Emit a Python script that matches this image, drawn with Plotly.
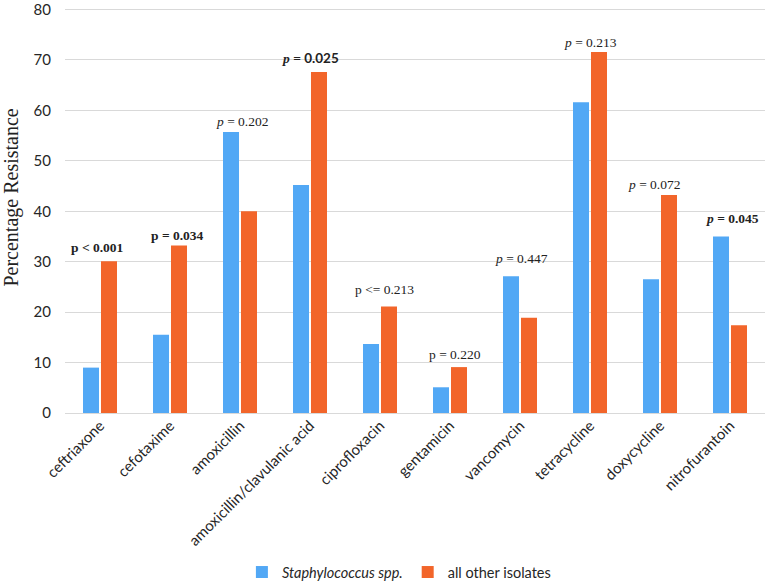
import plotly.graph_objects as go

categories = ["ceftriaxone", "cefotaxime", "amoxicillin", "amoxicillin/clavulanic acid",
              "ciprofloxacin", "gentamicin", "vancomycin", "tetracycline", "doxycycline",
              "nitrofurantoin"]
staph = [9.0, 15.5, 55.7, 45.2, 13.7, 5.1, 27.1, 61.6, 26.5, 35.0]
others = [30.1, 33.2, 40.0, 67.6, 21.1, 9.1, 18.9, 71.6, 43.2, 17.4]
y_ticks = [0, 10, 20, 30, 40, 50, 60, 70, 80]

SERIF = "Liberation Serif, Times New Roman, serif"
SANS = "Lato, Open Sans, sans-serif"

p_labels = [
    "<b>p &lt; 0.001</b>",
    "<b>p = 0.034</b>",
    "<i>p</i> = 0.202",
    "<b><i>p</i> = <span style='font-family:Lato'>0.025</span></b>",
    "p &lt;= 0.213",
    "p = 0.220",
    "<i>p</i> = 0.447",
    "<i>p</i> = 0.213",
    "<i>p</i> = 0.072",
    "<b><i>p</i> = 0.045</b>",
]
# annotation placement (data y, pixel x shift)
label_y = [32.9, 35.2, 57.7, 70.4, 24.5, 11.6, 30.6, 73.5, 45.3, 38.5]
label_dx = [-3, 7, 2, 0, 4, 5, 1.5, 0.5, -6, 2]

fig = go.Figure()
fig.add_trace(go.Bar(x=categories, y=staph, name="<i>Staphylococcus spp.</i>",
                     marker=dict(color="#52A8F5", line=dict(width=0))))
fig.add_trace(go.Bar(x=categories, y=others, name="all other isolates",
                     marker=dict(color="#F2652A", line=dict(width=0))))

for c, t, yy, dx in zip(categories, p_labels, label_y, label_dx):
    fig.add_annotation(x=c, y=yy, text=t, showarrow=False, xshift=dx,
                       font=dict(family=SERIF, size=13.5, color="#222222"))

fig.add_annotation(text="Percentage Resistance", textangle=-90, showarrow=False,
                   xref="paper", yref="paper", x=0, y=0.532, xanchor="center",
                   yanchor="middle", xshift=-53,
                   font=dict(family=SERIF, size=20, color="#222222"))

fig.update_layout(
    width=765, height=582,
    margin=dict(l=65, r=0, t=7.5, b=169, autoexpand=False),
    paper_bgcolor="white", plot_bgcolor="white",
    barmode="group", bargap=0.486, bargroupgap=0.11,
    font=dict(family=SANS, size=15, color="#262626"),
    showlegend=True,
    legend=dict(orientation="h", x=0.477, xanchor="center",
                yref="container", y=0.017, yanchor="middle",
                font=dict(family=SANS, size=14.5, color="#262626"), itemwidth=30,
                traceorder="normal"),
    xaxis=dict(tickangle=-45, showgrid=False, showline=False, ticks="", automargin=False,
               tickfont=dict(family=SANS, size=15, color="#262626")),
    yaxis=dict(range=[0, 80.3], tickvals=y_ticks, ticklabeloverflow="allow",
               showgrid=True, gridcolor="#D9D9D9", gridwidth=1, automargin=False,
               zeroline=True, zerolinecolor="#D9D9D9", zerolinewidth=1, showline=False,
               ticks="", ticklabelstandoff=13,
               tickfont=dict(family=SANS, size=15, color="#262626")),
)

fig.write_html("out.html", config={"displayModeBar": False},
               post_script="document.body.style.margin='0';")
